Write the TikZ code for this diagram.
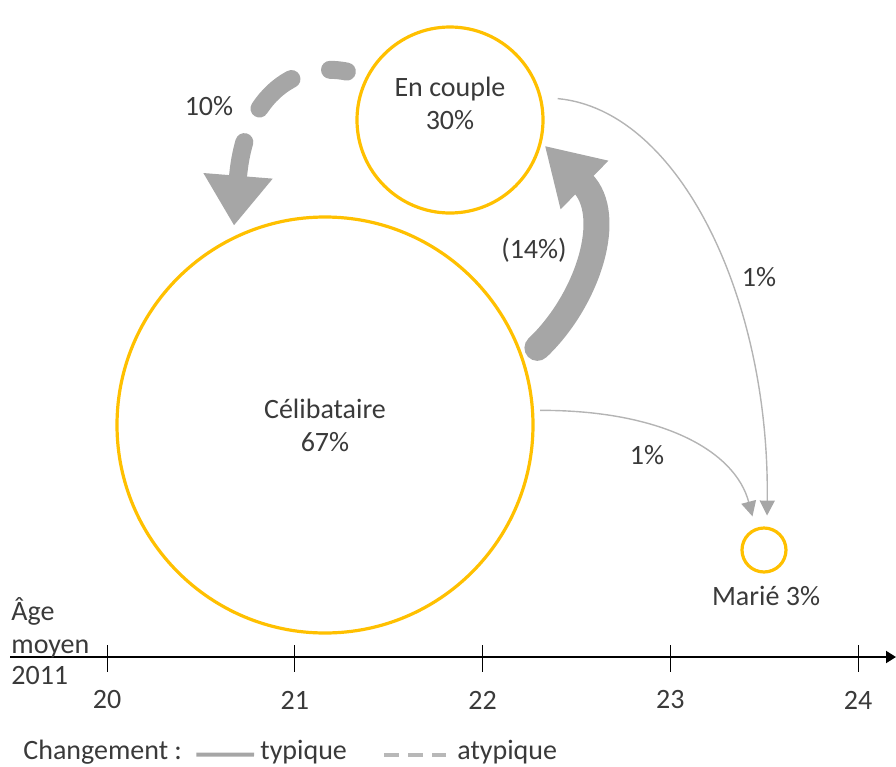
\documentclass[tikz,border=0pt]{standalone}
\usepackage{fontspec}
\setmainfont{Carlito}
\usetikzlibrary{arrows.meta}
\definecolor{jaune}{HTML}{FFC000}
\definecolor{grisfl}{HTML}{A6A6A6}
\definecolor{grisfin}{HTML}{B4B4B4}
\definecolor{texte}{HTML}{3A3A3A}

\begin{document}
\begin{tikzpicture}[x=0.5pt, y=-0.5pt,
    font=\fontsize{14}{16.5}\selectfont, text=texte,
    bulle/.style={circle, draw=jaune, line width=1.6pt, inner sep=0pt},
    typ/.style={grisfl, line width=13pt, line cap=round, -{Triangle[width=32pt,length=28pt]}},
    atyp/.style={grisfl, line width=9pt, line cap=round, dash pattern=on 8.5pt off 20pt on 22pt off 18.5pt on 100pt, -{Triangle[width=33pt,length=25pt]}},
    fin/.style={grisfin, line width=0.7pt, -{Triangle[width=7.5pt,length=7.5pt,color=grisfl]}},
    leg/.style={anchor=west, inner sep=0pt}]
    \useasboundingbox (0,0) rectangle (896,767);

    % etats
    \node[bulle, minimum size=208pt, align=center] (celib) at (325,425) {Célibataire\\67\%};
    \node[bulle, minimum size=93pt] (couple) at (450,120) {};
    \node[align=center] (couplelbl) at (450,103) {En couple\\30\%};
    \node[bulle, minimum size=22pt] (marie) at (764,550) {};
    \node (marielbl) at (766,596) {Marié 3\%};

    % changements
    \draw[atyp, shorten <=10pt, shorten >=5.5pt] (couple.152) .. controls (300,62) and (245,90) .. (celib.116);
    \node (pct10) at (209,106) {10\%};
    \draw[typ, shorten <=9pt, shorten >=2pt] (celib.18) .. controls (588,300) and (615,215) .. (couple.-14);
    \node (pct14) at (534,250) {(14\%)};
    \draw[fin, shorten <=8pt, shorten >=5.5pt] (couple.14) .. controls (680,110) and (770,300) .. (marie.83);
    \node (pct1a) at (759,277) {1\%};
    \draw[fin, shorten <=3pt, shorten >=6pt] (celib.4) .. controls (660,410) and (735,450) .. (marie.111);
    \node (pct1b) at (647,455) {1\%};

    % axe des ages
    \coordinate (axedeb) at (10,657);
    \coordinate (axefin) at (896,657);
    \draw[line width=1pt, -{Triangle[width=6pt,length=5pt]}] (axedeb) -- (axefin);
    \foreach \a [count=\i from 0] in {20,...,24} {
        \draw[line width=0.5pt] (107+187.75*\i,645) -- (107+187.75*\i,672);
        \node (age\a) at (107+187.75*\i,700) {\a};
    }
    \node[leg, align=left] (agelbl) at (11,628) {Âge\\moyen};
    \node[leg] (annee) at (11,676) {2011};

    % legende
    \node[leg] (chg) at (23,752) {Changement :};
    \node[leg] (typique) at (260,752) {typique};
    \node[leg] (atypique) at (457,752) {atypique};
    \draw[grisfl, line width=2pt] ([xshift=7pt]chg.mid east) -- ([xshift=-3pt]typique.mid west);
    \draw[grisfl!80, line width=2pt, dash pattern=on 7.5pt off 4.5pt] ([xshift=18.5pt]typique.mid east) -- ([xshift=-5.5pt]atypique.mid west);
\end{tikzpicture}
\end{document}
